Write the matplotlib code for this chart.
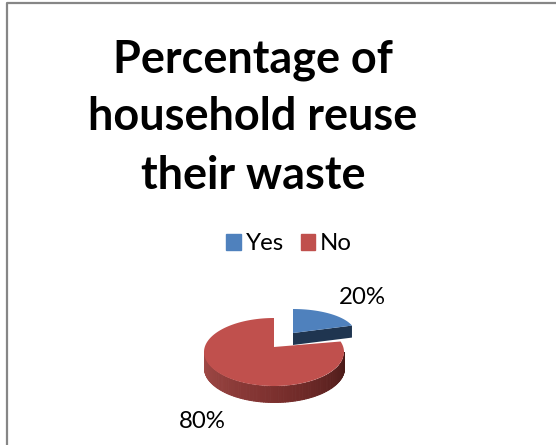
import numpy as np
import matplotlib
matplotlib.use('Agg')
import matplotlib.pyplot as plt
from matplotlib.patches import Patch
from matplotlib.colors import to_rgb

title_lines = ['Percentage of', 'household reuse', 'their waste']
labels = ['Yes', 'No']
values = [20, 80]
pct_labels = ['20%', '80%']
colors = ['#4F81BD', '#C0504D']

W, H = 556, 445
plt.rcParams['font.family'] = ['Lato', 'DejaVu Sans']
fig = plt.figure(figsize=(W / 100, H / 100), dpi=100)

bg = fig.add_axes([0, 0, 1, 1])
bg.set_xlim(0, W)
bg.set_ylim(H, 0)
bg.axis('off')
bg.plot([6.5, 6.5, 556], [H, 2.5, 2.5], color='#868686', lw=1.6, solid_capstyle='butt')


def slice_axes(cx, cy, rx, ry):
    # one axes per slice so each can be squashed into its own ellipse
    ax = fig.add_axes([(cx - rx) / W, 1 - (cy + ry) / H, 2 * rx / W, 2 * ry / H])
    ax.set_xlim(-1, 1)
    ax.set_ylim(-1, 1)
    ax.axis('off')
    return ax


angles = np.cumsum([0] + values) / sum(values) * 360
# slices run clockwise from 12 o'clock
a_yes = np.radians(90 - angles[:2])
a_no = np.radians(90 - angles[1:3])

# blue slice, pulled out to the upper right
ax = slice_axes(293, 333, 62, 24)
d = 12 / 24
tip = a_yes[1]
ax.fill([0, np.cos(tip), np.cos(tip), 0], [0, np.sin(tip), np.sin(tip) - d, -d], color='#1F3550', lw=0, clip_on=False)
t = np.linspace(a_yes[0], a_yes[1], 40)
ax.fill(np.r_[0, np.cos(t)], np.r_[0, np.sin(t)], color=colors[0], lw=0, clip_on=False)

# red slice, side wall first with a shaded strip per step
ax = slice_axes(274, 352, 70, 34)
d = 16 / 34
left, mid, right = [np.array(to_rgb(c)) for c in ('#A34C49', '#7C302E', '#481A18')]
t = np.linspace(np.pi, 2 * np.pi, 90)
for t0, t1 in zip(t[:-1], t[1:]):
    f = (t0 - np.pi) / np.pi
    c = left + (mid - left) * f * 2 if f < 0.5 else mid + (right - mid) * (f - 0.5) * 2
    tt = np.array([t0, t1])
    ax.fill_between(np.cos(tt), np.sin(tt), np.sin(tt) - d, color=c, lw=0.7, clip_on=False)
t = np.linspace(a_no[0], a_no[1], 200)
# apex sits a little above the ellipse centre in the 3d view
ax.fill(np.r_[0, np.cos(t)], np.r_[5 / 34, np.sin(t)], color=colors[1], lw=0, clip_on=False)

for line, y in zip(title_lines, [60, 117, 176]):
    bg.text(253, y, line, fontsize=32.4, fontweight='bold', ha='center', va='center', color='black')

bg.text(362, 298, pct_labels[0], fontsize=17.3, ha='center', va='center')
bg.text(202, 422, pct_labels[1], fontsize=17.3, ha='center', va='center')

handles = [Patch(color=c, label=l) for c, l in zip(colors, labels)]
fig.legend(handles=handles, loc='center', bbox_to_anchor=(289 / W, 1 - 244 / H), ncols=2, frameon=False,
           fontsize=17.3, handlelength=0.62, handleheight=0.62, handletextpad=0.2, columnspacing=0.7)

fig.savefig('out.png', dpi=100, facecolor='white')
